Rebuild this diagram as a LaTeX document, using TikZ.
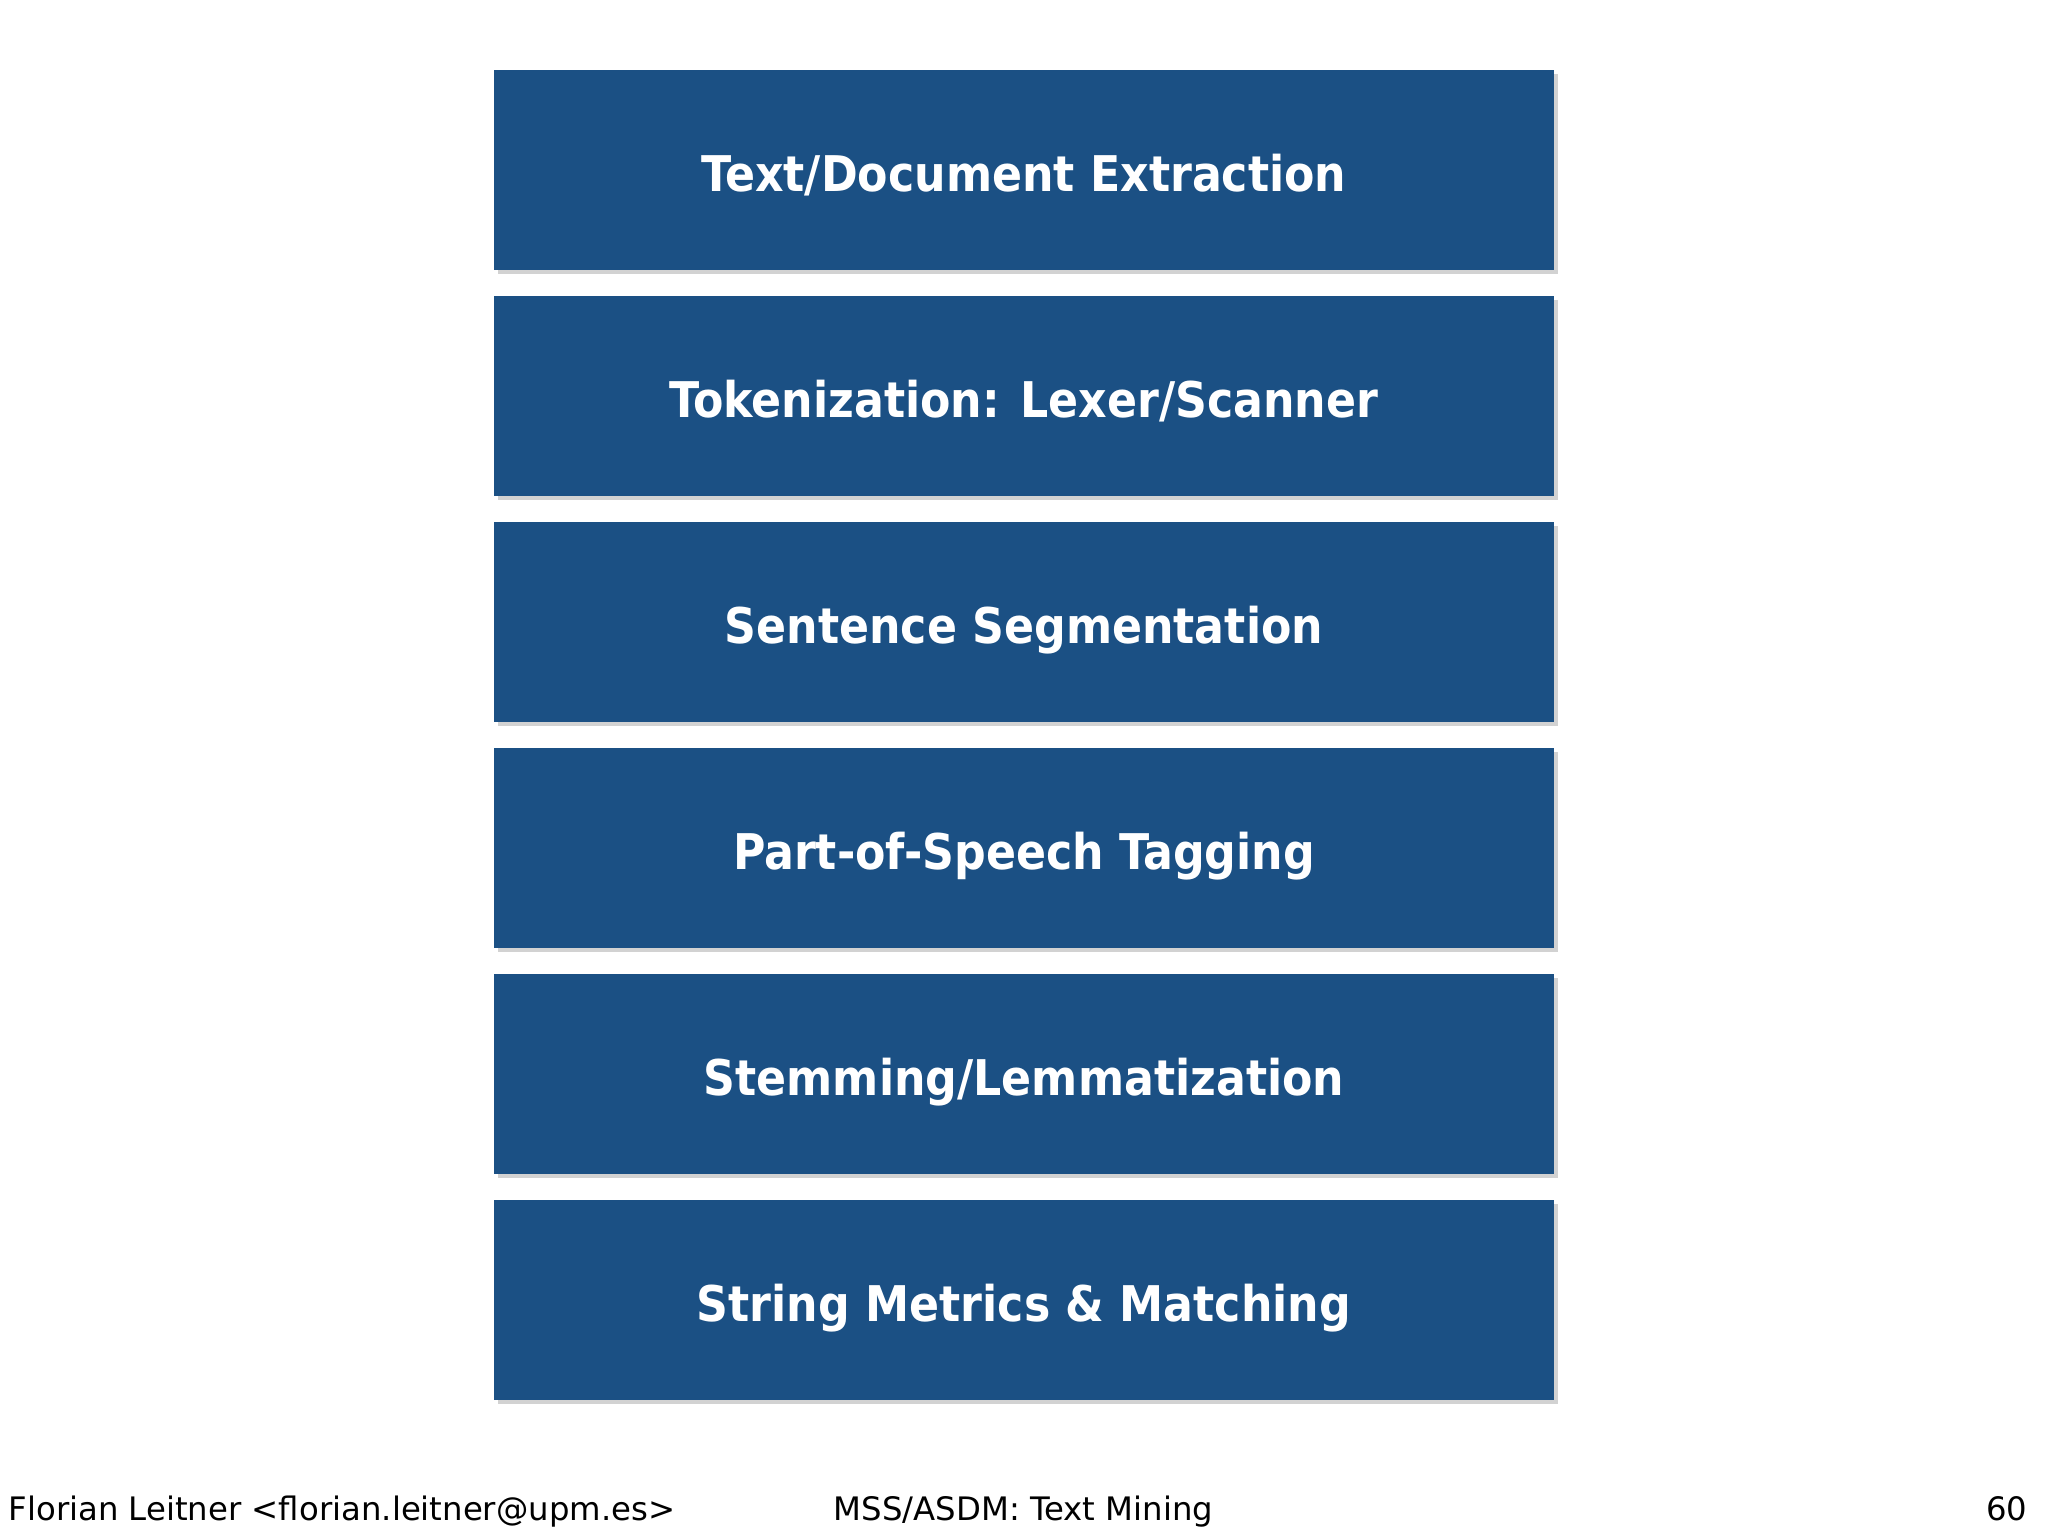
\documentclass[tikz,border=0pt]{standalone}
\usepackage{fontspec}
\setmainfont{DejaVu Sans}
\newfontfamily\kastenfont{DejaVu Sans Condensed}
\usetikzlibrary{shadows}
\definecolor{stufe}{RGB}{27,80,132}

\begin{document}
\begin{tikzpicture}[x=1cm,y=1cm]

\tikzset{kasten/.style={fill=stufe, draw=none, minimum width=10.6cm, minimum height=2.0cm,
    text=white, font=\kastenfont\fontsize{14}{16}\selectfont\bfseries, text height=12pt, text depth=0pt,
    drop shadow={shadow xshift=0.04cm, shadow yshift=-0.04cm, opacity=0.25, fill=black!70}},
  fuss/.style={font=\fontsize{9.2}{11}\selectfont, inner sep=0pt}}

\useasboundingbox[fill=white] (0,0) rectangle (20.48,-15.36);

%Verarbeitungsschritte
\node[kasten] (extraktion) at (10.24,-1.70) {Text/Document Extraction};
\node[kasten] (token) at (10.24,-3.96) {Tokenization: Lexer/Scanner};
\node[kasten] (satz) at (10.24,-6.22) {Sentence Segmentation};
\node[kasten] (wortart) at (10.24,-8.48) {Part-of-Speech Tagging};
\node[kasten] (stamm) at (10.24,-10.74) {Stemming/Lemmatization};
\node[kasten] (metrik) at (10.24,-13.00) {String Metrics \& Matching};

%Fusszeile
\node[fuss, anchor=base west] (autor) at (0.08,-15.20) {Florian Leitner <florian.leitner@upm.es>};
\node[fuss, anchor=base west] (kurs) at (8.33,-15.20) {MSS/ASDM: Text Mining};
\node[fuss, anchor=base east] (seite) at (20.28,-15.20) {60};

\end{tikzpicture}
\end{document}
